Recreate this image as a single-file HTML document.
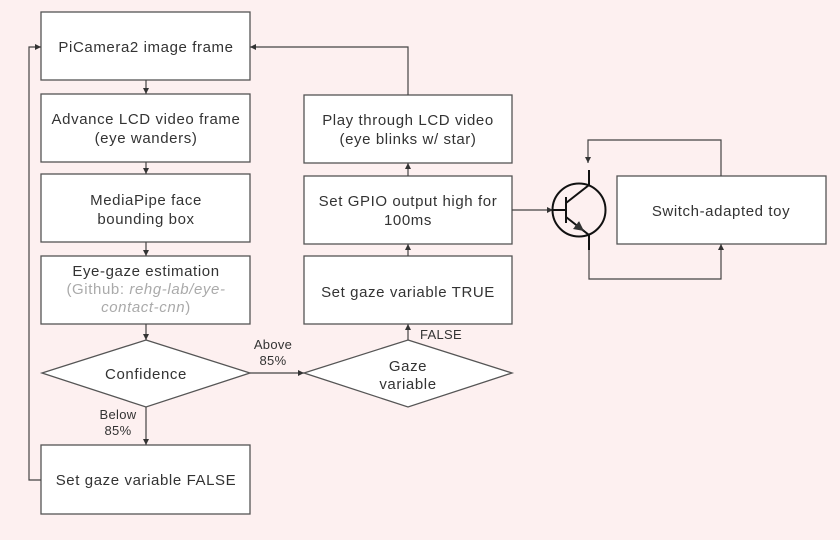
<!DOCTYPE html>
<html><head><style>
body{margin:0;background:#fdf0f0;}
svg{display:block;font-family:"Liberation Sans",sans-serif;}
text{font-size:15px;letter-spacing:0.6px;fill:#333;text-anchor:middle;}
.b{fill:#fff;stroke:#555;stroke-width:1.3;}
.l{fill:none;stroke:#444;stroke-width:1.2;}
.s{font-size:13px;letter-spacing:0.3px;}
</style></head><body>
<svg width="840" height="540" viewBox="0 0 840 540">
<defs><marker id="a" markerWidth="6" markerHeight="6" refX="5" refY="3" orient="auto"><path d="M0,0.5 L5,3 L0,5.5z" fill="#333"/></marker></defs>
<rect width="840" height="540" fill="#fdf0f0"/>
<rect class="b" x="41" y="12" width="209" height="68"/>
<text x="146" y="52">PiCamera2 image frame</text>
<rect class="b" x="41" y="94" width="209" height="68"/>
<text x="146" y="124">Advance LCD video frame</text><text x="146" y="143">(eye wanders)</text>
<rect class="b" x="41" y="174" width="209" height="68"/>
<text x="146" y="205">MediaPipe face</text><text x="146" y="224">bounding box</text>
<rect class="b" x="41" y="256" width="209" height="68"/>
<text x="146" y="276">Eye-gaze estimation</text>
<text x="146" y="294" style="fill:#aaa">(Github: <tspan font-style="italic">rehg-lab/eye-</tspan></text>
<text x="146" y="312" style="fill:#aaa"><tspan font-style="italic">contact-cnn</tspan>)</text>
<polygon class="b" points="146,340 250,373 146,407 42,373"/>
<text x="146" y="379">Confidence</text>
<rect class="b" x="41" y="445" width="209" height="69"/>
<text x="146" y="485">Set gaze variable FALSE</text>
<rect class="b" x="304" y="95" width="208" height="68"/>
<text x="408" y="125">Play through LCD video</text><text x="408" y="144">(eye blinks w/ star)</text>
<rect class="b" x="304" y="176" width="208" height="68"/>
<text x="408" y="206">Set GPIO output high for</text><text x="408" y="225">100ms</text>
<rect class="b" x="304" y="256" width="208" height="68"/>
<text x="408" y="297">Set gaze variable TRUE</text>
<polygon class="b" points="408,340 512,373 408,407 304,373"/>
<text x="408" y="371">Gaze</text><text x="408" y="389">variable</text>
<rect class="b" x="617" y="176" width="209" height="68"/>
<text x="721" y="216">Switch-adapted toy</text>
<path class="l" d="M146,80 V94" marker-end="url(#a)"/>
<path class="l" d="M146,162 V174" marker-end="url(#a)"/>
<path class="l" d="M146,242 V256" marker-end="url(#a)"/>
<path class="l" d="M146,324 V340" marker-end="url(#a)"/>
<path class="l" d="M146,407 V445" marker-end="url(#a)"/>
<path class="l" d="M41,480 H29 V47 H41" marker-end="url(#a)"/>
<path class="l" d="M250,373 H304" marker-end="url(#a)"/>
<path class="l" d="M408,340 V324" marker-end="url(#a)"/>
<path class="l" d="M408,256 V244" marker-end="url(#a)"/>
<path class="l" d="M408,176 V163" marker-end="url(#a)"/>
<path class="l" d="M408,95 V47 H250" marker-end="url(#a)"/>
<text class="s" x="118" y="419">Below</text><text class="s" x="118" y="435">85%</text>
<text class="s" x="273" y="349">Above</text><text class="s" x="273" y="365">85%</text>
<text class="s" x="441" y="339">FALSE</text>
<path class="l" d="M512,210 H553" marker-end="url(#a)"/>
<circle cx="579" cy="210" r="26.5" fill="none" stroke="#111" stroke-width="2"/>
<path d="M553,210 H566 M566,197 V223 M566,203 L589,185 V170 M566,217 L589,235 V250" fill="none" stroke="#111" stroke-width="2"/>
<path d="M576,225 L584,231" stroke="#111" stroke-width="2" marker-end="url(#a)"/>
<path class="l" d="M721,176 V140 H588 V163" marker-end="url(#a)"/>
<path class="l" d="M589,250 V279 H721 V244" marker-end="url(#a)"/>
</svg>
</body></html>
